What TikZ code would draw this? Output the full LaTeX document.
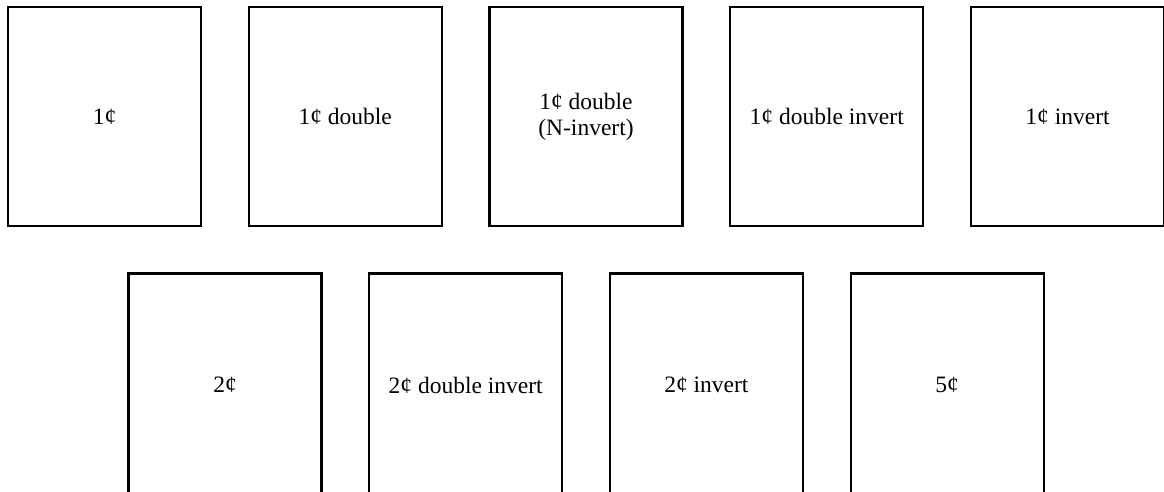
\documentclass[tikz,border=0pt]{standalone}
\usepackage{fontspec}
\setmainfont{Liberation Serif}
\begin{document}
\begin{tikzpicture}[x=1pt,y=-1pt,
  coin/.style={draw=black,line width=2.2pt,minimum width=193pt,inner sep=0pt,align=center,
    font=\fontsize{23.5}{26}\selectfont},
  toprow/.style={coin,minimum height=219pt},
  botrow/.style={coin,minimum height=223pt}]
\useasboundingbox (0,0) rectangle (1164,491);
\begin{scope}
\clip (0,0) rectangle (1164,491);
\node[toprow] (a1) at (104.5,116.5) {1¢};
\node[toprow] (a2) at (345.25,116.5) {1¢ double};
\node[toprow] (a3) at (586,116.5) {1¢ double\\(N-invert)};
\node[toprow] (a4) at (826.75,116.5) {1¢ double invert};
\node[toprow] (a5) at (1067.5,116.5) {1¢ invert};
\node[botrow] (b1) at (225,385) {2¢};
\node[botrow] (b2) at (465.7,385) {2¢ double invert};
\node[botrow] (b3) at (706.4,385) {2¢ invert};
\node[botrow] (b4) at (947.1,385) {5¢};
\end{scope}
\end{tikzpicture}
\end{document}
